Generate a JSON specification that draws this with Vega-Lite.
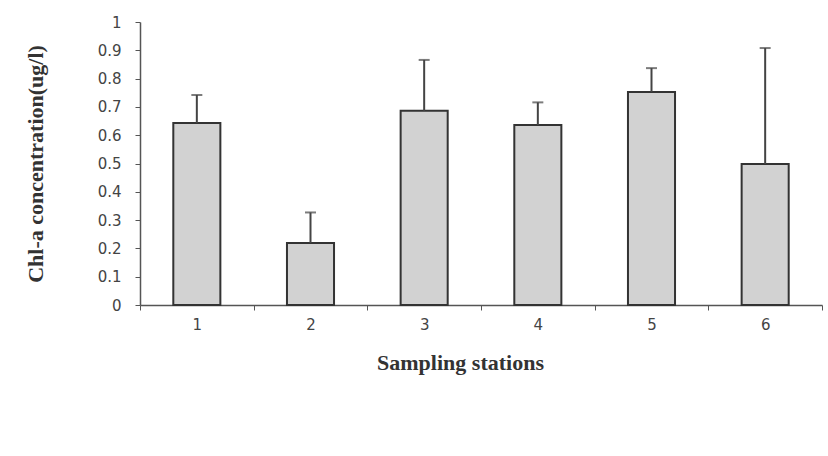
{
  "$schema": "https://vega.github.io/schema/vega-lite/v6.json",
  "width": 682,
  "height": 283,
  "autosize": {"type": "none"},
  "padding": {"left": 140, "top": 22, "right": 6, "bottom": 151},
  "background": "white",
  "config": {"view": {"stroke": null}},
  "data": {
    "values": [
      {"station": "1", "mean": 0.643, "upper": 0.742},
      {"station": "2", "mean": 0.219, "upper": 0.327},
      {"station": "3", "mean": 0.686, "upper": 0.866},
      {"station": "4", "mean": 0.636, "upper": 0.716},
      {"station": "5", "mean": 0.753, "upper": 0.837},
      {"station": "6", "mean": 0.498, "upper": 0.908}
    ]
  },
  "encoding": {
    "x": {
      "field": "station",
      "type": "ordinal",
      "scale": {"paddingInner": 0, "paddingOuter": 0},
      "axis": {
        "title": "Sampling stations",
        "titleFont": "Liberation Serif",
        "titleFontSize": 22,
        "titleFontWeight": "bold",
        "titleColor": "#333",
        "titlePadding": 20,
        "titleAnchor": "middle",
        "titleX": 320,
        "labelAngle": 0,
        "labelFont": "DejaVu Sans",
        "labelFontSize": 15,
        "labelColor": "#444",
        "labelPadding": 7,
        "tickBand": "extent",
        "tickSize": 5,
        "tickColor": "#555",
        "domainColor": "#555",
        "domainWidth": 1.5
      }
    }
  },
  "layer": [
    {
      "mark": {"type": "bar", "fill": "#d2d2d2", "stroke": "#333", "strokeWidth": 2, "width": {"band": 0.414}},
      "encoding": {
        "y": {
          "field": "mean",
          "type": "quantitative",
          "scale": {"domain": [0, 1]},
          "axis": {
            "title": "Chl-a concentration(ug/l)",
            "titleFont": "Liberation Serif",
            "titleFontSize": 22,
            "titleFontWeight": "bold",
            "titleColor": "#333",
            "titlePadding": 50,
            "values": [0, 0.1, 0.2, 0.3, 0.4, 0.5, 0.6, 0.7, 0.8, 0.9, 1],
            "format": "~g",
            "grid": false,
            "labelOverlap": false,
            "labelFont": "DejaVu Sans",
            "labelFontSize": 15,
            "labelColor": "#444",
            "labelPadding": 14,
            "tickSize": 5,
            "tickColor": "#555",
            "domainColor": "#555",
            "domainWidth": 1.5
          }
        }
      }
    },
    {
      "mark": {"type": "rule", "color": "#444", "strokeWidth": 2},
      "encoding": {
        "y": {
          "field": "mean",
          "type": "quantitative",
          "scale": {"domain": [0, 1]},
          "axis": {
            "title": "Chl-a concentration(ug/l)",
            "titleFont": "Liberation Serif",
            "titleFontSize": 22,
            "titleFontWeight": "bold",
            "titleColor": "#333",
            "titlePadding": 50,
            "values": [0, 0.1, 0.2, 0.3, 0.4, 0.5, 0.6, 0.7, 0.8, 0.9, 1],
            "format": "~g",
            "grid": false,
            "labelOverlap": false,
            "labelFont": "DejaVu Sans",
            "labelFontSize": 15,
            "labelColor": "#444",
            "labelPadding": 14,
            "tickSize": 5,
            "tickColor": "#555",
            "domainColor": "#555",
            "domainWidth": 1.5
          }
        },
        "y2": {"field": "upper"}
      }
    },
    {
      "mark": {"type": "tick", "color": "#444", "size": 11, "thickness": 2, "orient": "horizontal"},
      "encoding": {
        "y": {
          "field": "upper",
          "type": "quantitative",
          "scale": {"domain": [0, 1]},
          "axis": {
            "title": "Chl-a concentration(ug/l)",
            "titleFont": "Liberation Serif",
            "titleFontSize": 22,
            "titleFontWeight": "bold",
            "titleColor": "#333",
            "titlePadding": 50,
            "values": [0, 0.1, 0.2, 0.3, 0.4, 0.5, 0.6, 0.7, 0.8, 0.9, 1],
            "format": "~g",
            "grid": false,
            "labelOverlap": false,
            "labelFont": "DejaVu Sans",
            "labelFontSize": 15,
            "labelColor": "#444",
            "labelPadding": 14,
            "tickSize": 5,
            "tickColor": "#555",
            "domainColor": "#555",
            "domainWidth": 1.5
          }
        }
      }
    }
  ]
}
